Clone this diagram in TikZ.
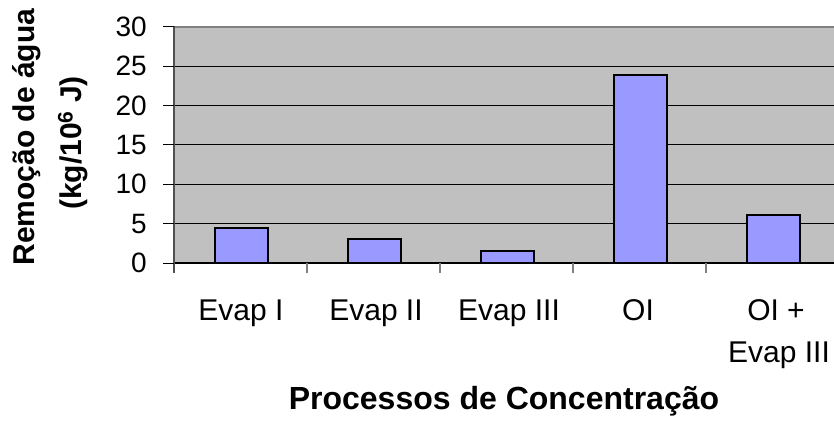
\documentclass[tikz,border=0pt]{standalone}
\usepackage{fontspec}
\setmainfont{Liberation Sans}
\definecolor{plotgray}{HTML}{C0C0C0}
\definecolor{barblue}{HTML}{9999FF}
\definecolor{axisgray}{HTML}{808080}
\definecolor{axisdark}{HTML}{505050}
\begin{document}
\begin{tikzpicture}[x=1pt,y=1pt,
  ticklabel/.style={anchor=east,inner sep=0pt,font=\fontsize{28}{32}\selectfont},
  catlabel/.style={anchor=base,inner sep=0pt,font=\fontsize{30}{36}\selectfont},
  axtitle/.style={inner sep=0pt,font=\fontsize{30}{36}\selectfont\bfseries},
  bar/.style={fill=barblue,draw=black,line width=2pt},
  grid line/.style={draw=black,line width=1pt}]
\useasboundingbox (0,0) rectangle (834,421);
% plot area
\fill[plotgray] (173.5,158) rectangle (834,394);
\foreach \v in {5,10,15,20,25}{
  \draw[grid line] (173.5,{158+7.867*\v}) -- (834,{158+7.867*\v});
}
\draw[axisgray,line width=1.5pt] (173.5,394) -- (834,394);
% bars
\foreach \c/\v in {241/4.5,374/3.0,507/1.5,640/23.9,773/6.1}{
  \draw[bar] ({\c-26.5},158) rectangle ({\c+26.5},{158+7.867*\v});
}
% axes
\draw[black,line width=1.5pt] (173.5,158) -- (834,158);
\draw[axisdark,line width=2pt] (173.5,148) -- (173.5,394.5);
\foreach \v in {0,5,...,30}{
  \draw[black,line width=1pt] (163,{158+7.867*\v}) -- (173.5,{158+7.867*\v});
  \node[ticklabel] (t\v) at (147,{158+7.867*\v}) {\v};
}
\foreach \x in {307,440,573,706}{
  \draw[axisgray,line width=1.5pt] (\x,158) -- (\x,148);
}
% category labels
\node[catlabel] (c1) at (241,101) {Evap I};
\node[catlabel] (c2) at (376,101) {Evap II};
\node[catlabel] (c3) at (509,101) {Evap III};
\node[catlabel] (c4) at (638,101) {OI};
\node[catlabel] (c5a) at (776,101) {OI +};
\node[catlabel] (c5b) at (779,59) {Evap III};
% titles
\node[axtitle,anchor=base,font=\fontsize{32}{38}\selectfont\bfseries] (xt) at (504,12) {Processos de Concentração};
\node[axtitle,rotate=90] (yt1) at (27,284) {Remoção de água};
\node[axtitle,rotate=90] (yt2) at (73,278) {(kg/10\textsuperscript{6} J)};
\end{tikzpicture}
\end{document}
